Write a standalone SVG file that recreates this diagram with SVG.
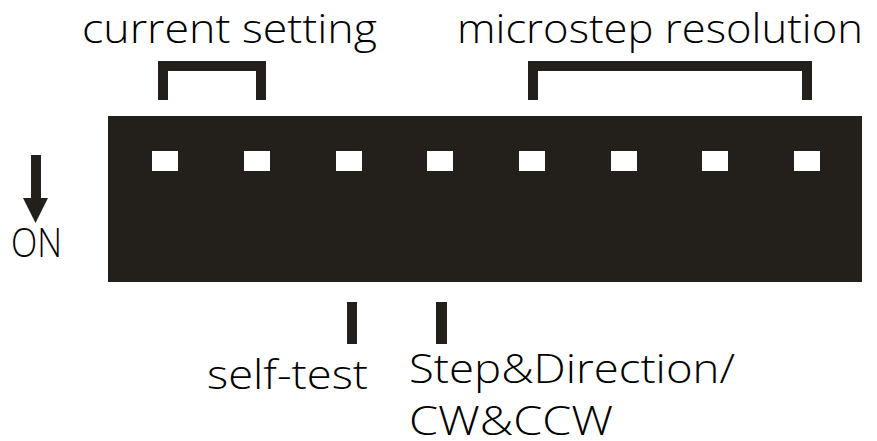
<svg xmlns="http://www.w3.org/2000/svg" width="877" height="441" viewBox="0 0 877 441">
<style>
.lbl{font-family:"Open Sans","DejaVu Sans",sans-serif;font-size:41px;font-weight:300;fill:#000}
.blk{fill:#231f1b}
.sw{fill:#fff}
.br{fill:none;stroke:#231f1b;stroke-width:10}
</style>
<rect width="877" height="441" fill="#fff"/>
<g id="switch-block">
<rect class="blk" x="108" y="116" width="754" height="166"/>
<rect class="sw" x="152" y="151" width="26" height="20"/>
<rect class="sw" x="244" y="151" width="26" height="20"/>
<rect class="sw" x="336" y="151" width="26" height="20"/>
<rect class="sw" x="427" y="151" width="26" height="20"/>
<rect class="sw" x="519" y="151" width="26" height="20"/>
<rect class="sw" x="611" y="151" width="26" height="20"/>
<rect class="sw" x="702" y="151" width="26" height="20"/>
<rect class="sw" x="794" y="151" width="26" height="20"/>
</g>
<g id="current-setting">
<text class="lbl" x="82" y="43" textLength="295" lengthAdjust="spacingAndGlyphs">current setting</text>
</g>
<g id="microstep-resolution">
<text class="lbl" x="457" y="43" textLength="406" lengthAdjust="spacingAndGlyphs">microstep resolution</text>
</g>
<g id="on-indicator">
<rect class="blk" x="31" y="155" width="10" height="45"/>
<polygon class="blk" points="23,198 48,198 35.5,223"/>
<text class="lbl" x="11" y="257" font-size="34" textLength="51" lengthAdjust="spacingAndGlyphs">ON</text>
</g>
<g id="self-test">
<text class="lbl" x="207" y="389" textLength="161" lengthAdjust="spacingAndGlyphs">self-test</text>
</g>
<g id="step-direction">
<text class="lbl" x="409" y="383" textLength="326" lengthAdjust="spacingAndGlyphs">Step&amp;Direction/</text>
<text class="lbl" x="409" y="435" textLength="204" lengthAdjust="spacingAndGlyphs">CW&amp;CCW</text>
</g>
<g id="connectors">
<path class="br" d="M163,100 V66 H261 V100"/>
<path class="br" d="M533,100 V66 H807 V100"/>
<rect class="blk" x="347" y="302" width="10" height="42"/>
<rect class="blk" x="436" y="302" width="11" height="42"/>
</g>
</svg>
